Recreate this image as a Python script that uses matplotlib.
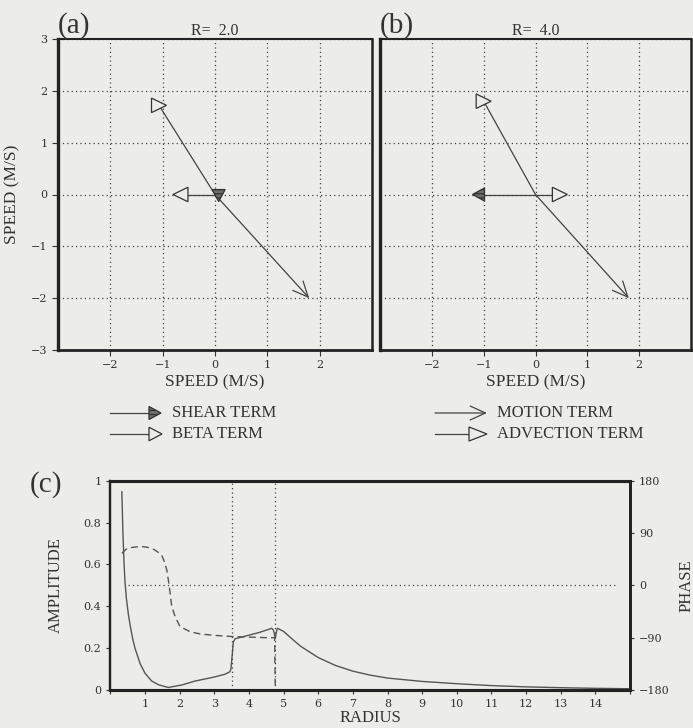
import numpy as np
import matplotlib
matplotlib.use('Agg')
import matplotlib.pyplot as plt
from matplotlib.patches import Polygon
from matplotlib.transforms import ScaledTranslation

# steering terms (u, v components, m/s) at two radii
radii = [2.0, 4.0]
motion_u = [1.8, 1.8]
motion_v = [-2.0, -2.0]
advection_u = [-1.07, -1.0]
advection_v = [1.72, 1.80]
beta_u = [-0.66, 0.47]
beta_v = [0.0, 0.0]
shear_u = [0.07, -1.1]
shear_v = [-0.02, 0.0]

# head orientation of each term (degrees) in each panel
advection_head = [0, 0]
beta_head = [180, 0]
shear_head = [-90, 180]

# amplitude and phase profiles vs radius
radius = [0.33, 0.36, 0.39, 0.42, 0.46, 0.52, 0.58, 0.65, 0.71, 0.86, 1.0, 1.19,
          1.39, 1.67, 2.06, 2.45, 3.0, 3.3, 3.45, 3.48, 3.55, 3.6, 4.0, 4.3, 4.66,
          4.71, 4.76, 4.79, 4.82, 5.0, 5.25, 5.5, 6.0, 6.5, 7.0, 7.5, 8.0, 9.0,
          10.0, 11.0, 12.0, 13.0, 14.0, 15.0]
amplitude = [0.947, 0.76, 0.62, 0.52, 0.44, 0.36, 0.30, 0.24, 0.20, 0.125, 0.08,
             0.043, 0.025, 0.012, 0.024, 0.043, 0.062, 0.075, 0.087, 0.10, 0.23,
             0.245, 0.262, 0.275, 0.295, 0.285, 0.247, 0.275, 0.295, 0.28, 0.243,
             0.208, 0.155, 0.117, 0.09, 0.071, 0.057, 0.041, 0.03, 0.021, 0.015,
             0.011, 0.008, 0.006]
phase_radius = [0.33, 0.45, 0.6, 0.8, 0.95, 1.1, 1.25, 1.4, 1.48, 1.55, 1.63, 1.70,
                1.77, 1.87, 2.01, 2.3, 2.59, 3.0, 3.5, 4.0, 4.5, 4.74, 4.76, 15.0]
phase = [55, 62, 65, 66.5, 66.5, 65, 62, 56, 52, 42, 26, -2, -36, -54, -71, -79.7,
         -83.6, -86, -88, -89, -90, -90, -180, -180]
critical_radii = [3.5, 4.75]

bg = '#ececE8'
ink = '#333333'
plt.rcParams['font.family'] = ['Liberation Serif', 'DejaVu Serif']
plt.rcParams['hatch.linewidth'] = 0.9

fig = plt.figure(figsize=(6.93, 7.28), dpi=100, facecolor=bg)
W, H = 693.0, 728.0
open_arrow = '->,head_length=1.1,head_width=0.5'
tick_font = dict(family='DejaVu Serif', size=8)


def px_rect(left, top, right, bottom):
    return [left / W, 1 - bottom / H, (right - left) / W, (bottom - top) / H]


def draw_head(ax, x, y, angle, length=0.15, height=0.145, hatch=None, fc=bg):
    # triangle head sized in inches, centred on (x, y) in data coords
    verts = np.array([[length / 2, 0], [-length / 2, height / 2], [-length / 2, -height / 2]])
    a = np.deg2rad(angle)
    rot = np.array([[np.cos(a), -np.sin(a)], [np.sin(a), np.cos(a)]])
    verts = verts @ rot.T
    tr = fig.dpi_scale_trans + ScaledTranslation(x, y, ax.transData)
    p = Polygon(verts, closed=True, transform=tr, facecolor=fc, edgecolor='#333333',
                lw=0.9, hatch=hatch, zorder=5, clip_on=False)
    ax.add_patch(p)


def style_spines(ax, widths):
    for side, w in zip(['left', 'bottom', 'top', 'right'], widths):
        ax.spines[side].set_linewidth(w)
        ax.spines[side].set_color('#222222')


def style_ticks(ax):
    ax.tick_params(direction='out', length=4, width=0.8, colors=ink)
    for lab in ax.get_xticklabels() + ax.get_yticklabels():
        lab.set_fontfamily(tick_font['family'])
        lab.set_fontsize(tick_font['size'])


panel_rects = [px_rect(58, 39, 372, 350), px_rect(380, 39, 691, 350)]
for i, R in enumerate(radii):
    ax = fig.add_axes(panel_rects[i], facecolor=bg)
    ax.set_xlim(-3, 3)
    ax.set_ylim(-3, 3)
    ax.set_xticks(range(-2, 3))
    ax.set_yticks(range(-3, 4))
    ax.grid(True, ls=(0, (1, 2.5)), color='#444444', lw=0.9)
    style_ticks(ax)
    style_spines(ax, [2.4, 2.0, 1.5, 1.8])
    ax.set_xlabel('SPEED (M/S)', fontsize=12.5, color=ink, labelpad=3)
    if i == 0:
        ax.set_ylabel('SPEED (M/S)', fontsize=12.5, color=ink, labelpad=8)
    else:
        ax.tick_params(axis='y', length=0, labelleft=False)
    ax.set_title('R= %4.1f' % R, fontsize=11.5, color=ink, pad=3)
    ax.text(0.0, 1.0, '(%s)' % 'ab'[i], transform=ax.transAxes, fontsize=21,
            ha='left', va='bottom', color=ink)

    # motion vector with open arrow head
    ax.annotate('', xy=(motion_u[i], motion_v[i]), xytext=(0, 0),
                arrowprops=dict(arrowstyle=open_arrow, color='#444444', lw=0.9,
                                shrinkA=0, shrinkB=0))
    # advection, beta and shear vectors with triangle heads
    for u, v, ang, hatch in [(advection_u[i], advection_v[i], advection_head[i], None),
                             (beta_u[i], beta_v[i], beta_head[i], None),
                             (shear_u[i], shear_v[i], shear_head[i], '----')]:
        ax.plot([0, u], [0, v], color='#444444', lw=0.9)
        if hatch:
            draw_head(ax, u, v, ang, length=0.12, height=0.13, hatch=hatch, fc='#6e6e6a')
        else:
            draw_head(ax, u, v, ang)

# legend drawn on a full-figure overlay in pixel units
lax = fig.add_axes([0, 0, 1, 1])
lax.set_xlim(0, W)
lax.set_ylim(H, 0)
lax.axis('off')
legend_font = dict(fontsize=12, color=ink, va='center', ha='left')
lax.plot([110, 149], [413, 413], color='#444444', lw=0.9)
draw_head(lax, 155, 413, 0, length=0.12, height=0.13, hatch='----', fc='#6e6e6a')
lax.text(172, 413, 'SHEAR TERM', **legend_font)
lax.plot([110, 149], [434, 434], color='#444444', lw=0.9)
draw_head(lax, 155.5, 434, 0, length=0.13, height=0.135)
lax.text(172, 434, 'BETA TERM', **legend_font)
lax.annotate('', xy=(487, 413), xytext=(435, 413),
             arrowprops=dict(arrowstyle=open_arrow, color='#444444', lw=0.9,
                             shrinkA=0, shrinkB=0))
lax.text(497, 413, 'MOTION TERM', **legend_font)
lax.plot([435, 469], [434, 434], color='#444444', lw=0.9)
draw_head(lax, 478, 434, 0, length=0.18, height=0.14)
lax.text(497, 434, 'ADVECTION TERM', **legend_font)

# amplitude / phase panel
axc = fig.add_axes(px_rect(110.4, 480.7, 630, 690), facecolor=bg)
axc.set_xlim(0, 15)
axc.set_ylim(0, 1)
axc.set_xticks(range(0, 16))
axc.set_xticklabels([''] + [str(k) for k in range(1, 15)] + [''])
axc.set_yticks([0, 0.2, 0.4, 0.6, 0.8, 1.0])
axc.set_yticklabels(['0', '0.2', '0.4', '0.6', '0.8', '1'])
style_ticks(axc)
axc.tick_params(length=3)
style_spines(axc, [1.6, 2.2, 2.2, 2.0])
axc.plot(radius, amplitude, color='#555555', lw=1.0)
for r in critical_radii:
    axc.axvline(r, color='#444444', ls=(0, (1, 2.5)), lw=0.9)
axc.set_xlabel('RADIUS', fontsize=12, color=ink, labelpad=1)
axc.set_ylabel('AMPLITUDE', fontsize=12, color=ink, labelpad=14)

axp = axc.twinx()
axp.set_ylim(-180, 180)
axp.set_yticks([-180, -90, 0, 90, 180])
style_ticks(axp)
axp.tick_params(length=3)
style_spines(axp, [1.6, 2.2, 2.2, 2.0])
axp.hlines(0, 0.5, 14.6, color='#444444', ls=(0, (1, 2.5)), lw=0.9)
axp.plot(phase_radius, phase, color='#555555', lw=1.0, ls=(0, (5, 3)))
axp.set_ylabel('PHASE', fontsize=12, color=ink, labelpad=6)

fig.text(30 / W, 1 - 498 / H, '(c)', fontsize=21, color=ink, ha='left', va='bottom')

fig.savefig('out.png', dpi=100, facecolor=bg)
